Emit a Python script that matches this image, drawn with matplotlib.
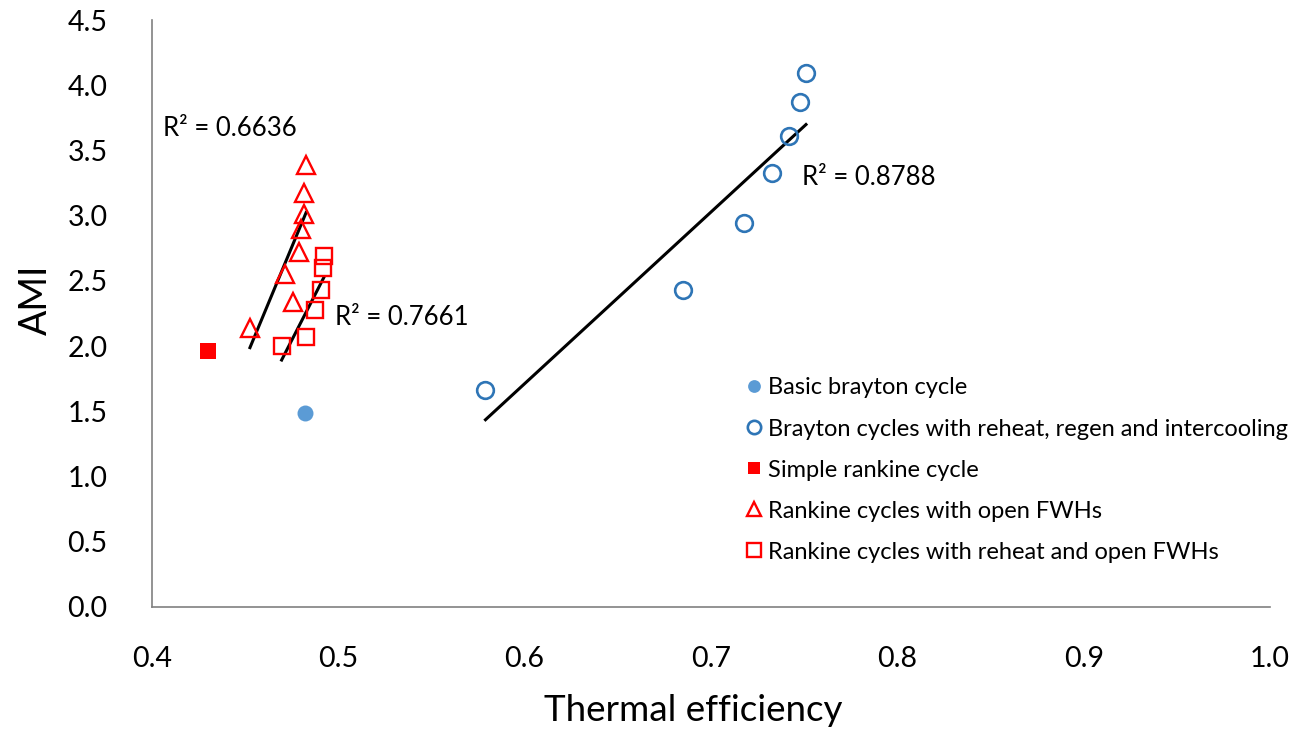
import numpy as np
import matplotlib
matplotlib.use('Agg')
import matplotlib.pyplot as plt

plt.rcParams['font.family'] = ['Lato', 'DejaVu Sans']

# 数据
basic_brayton_x = [0.482]
basic_brayton_y = [1.49]

brayton_x = [0.579, 0.685, 0.718, 0.733, 0.742, 0.748, 0.751]
brayton_y = [1.66, 2.43, 2.94, 3.33, 3.61, 3.87, 4.09]

simple_rankine_x = [0.430]
simple_rankine_y = [1.96]

rankine_fwh_x = [0.4827, 0.4816, 0.4816, 0.4798, 0.4787, 0.4716, 0.4759, 0.4526]
rankine_fwh_y = [3.39, 3.17, 3.01, 2.90, 2.72, 2.55, 2.34, 2.14]

rankine_reheat_x = [0.4923, 0.4920, 0.4905, 0.4875, 0.4827, 0.4696]
rankine_reheat_y = [2.69, 2.60, 2.43, 2.28, 2.07, 2.00]

r2_labels = ['R² = 0.6636', 'R² = 0.7661', 'R² = 0.8788']
r2_pos = [(0.406, 3.67), (0.498, 2.22), (0.749, 3.29)]

BLUE_FILL = '#5B9BD5'
BLUE_EDGE = '#2E75B6'
RED = '#FF0000'


def trendline(ax, xs, ys):
    k, b = np.polyfit(xs, ys, 1)
    xx = np.array([min(xs), max(xs)])
    ax.plot(xx, k * xx + b, color='black', linewidth=2.2, zorder=3)


fig = plt.figure(figsize=(13.11, 7.30), dpi=100)
ax = fig.add_axes([0.1159, 0.1685, 0.9687 - 0.1159, 0.9726 - 0.1685])

ax.plot(basic_brayton_x, basic_brayton_y, 'o', color=BLUE_FILL, markersize=11.5,
        markeredgewidth=0, label='Basic brayton cycle', zorder=4)
ax.plot(brayton_x, brayton_y, 'o', markerfacecolor='none', markeredgecolor=BLUE_EDGE,
        markersize=12, markeredgewidth=1.9,
        label='Brayton cycles with reheat, regen and intercooling', zorder=4)
ax.plot(simple_rankine_x, simple_rankine_y, 's', color=RED, markersize=11,
        markeredgewidth=0, label='Simple rankine cycle', zorder=4)
ax.plot(rankine_fwh_x, rankine_fwh_y, '^', markerfacecolor='none', markeredgecolor=RED,
        markersize=13, markeredgewidth=1.7, label='Rankine cycles with open FWHs', zorder=4)
ax.plot(rankine_reheat_x, rankine_reheat_y, 's', markerfacecolor='none', markeredgecolor=RED,
        markersize=12, markeredgewidth=1.7,
        label='Rankine cycles with reheat and open FWHs', zorder=4)

trendline(ax, rankine_fwh_x, rankine_fwh_y)
trendline(ax, rankine_reheat_x, rankine_reheat_y)
trendline(ax, brayton_x, brayton_y)

for txt, (tx, ty) in zip(r2_labels, r2_pos):
    ax.text(tx, ty, txt, fontsize=18.5, ha='left', va='center', color='black')

ax.set_xlim(0.4, 1.0)
ax.set_ylim(0.0, 4.5)
ax.set_xticks(np.arange(0.4, 1.01, 0.1))
ax.set_yticks(np.arange(0.0, 4.51, 0.5))
ax.set_xticklabels([f'{v:.1f}' for v in np.arange(0.4, 1.01, 0.1)])
ax.set_yticklabels([f'{v:.1f}' for v in np.arange(0.0, 4.51, 0.5)])
ax.tick_params(axis='both', length=0, labelsize=20.5, colors='black')
ax.tick_params(axis='x', pad=28)
ax.tick_params(axis='y', pad=32)

for side in ['top', 'right']:
    ax.spines[side].set_visible(False)
for side in ['left', 'bottom']:
    ax.spines[side].set_color('#808080')
    ax.spines[side].set_linewidth(1.2)

ax.set_xlabel('Thermal efficiency', fontsize=26.5, va='center')
ax.set_ylabel('AMI', fontsize=27, va='center')
ax.xaxis.set_label_coords(0.484, -0.177)
ax.yaxis.set_label_coords(-0.104, 0.523)

ax.legend(loc='upper left', bbox_to_anchor=(738 / 1311, 1 - 368 / 730),
          bbox_transform=fig.transFigure, frameon=False, fontsize=17,
          handlelength=0.55, handletextpad=0.3, labelspacing=0.85,
          markerscale=0.8, borderaxespad=0)

plt.savefig('out.png', dpi=100)
plt.close()
